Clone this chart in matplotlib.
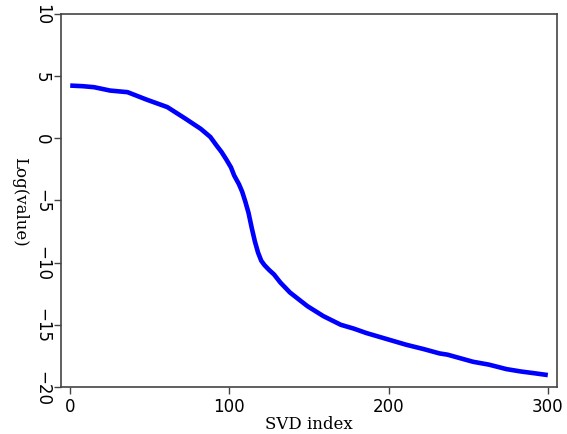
import matplotlib
matplotlib.use("Agg")
import matplotlib.pyplot as plt

# singular values (log)
svd_index = [0, 8, 15, 25, 36, 48, 61, 72, 82, 88, 92, 95, 98, 101, 103, 106,
             108, 110, 112, 114, 116, 118, 120, 122, 125, 128, 132, 138, 143,
             149, 159, 170, 178, 186, 199, 211, 222, 232, 237, 253, 263, 274,
             283, 292, 300]
log_value = [4.23, 4.18, 4.1, 3.83, 3.7, 3.1, 2.5, 1.6, 0.75, 0.1, -0.6, -1.1,
             -1.7, -2.35, -3.0, -3.7, -4.3, -5.1, -6.0, -7.2, -8.3, -9.2, -9.85,
             -10.2, -10.6, -10.95, -11.6, -12.4, -12.9, -13.5, -14.3, -15.0,
             -15.3, -15.66, -16.15, -16.6, -16.95, -17.3, -17.4, -17.97, -18.2,
             -18.56, -18.75, -18.9, -19.04]

x_ticks = [0, 100, 200, 300]
y_ticks = [-20, -15, -10, -5, 0, 5, 10]

fig = plt.figure(figsize=(5.67, 4.35), dpi=100)
ax = fig.add_axes([0.107, 0.108, 0.876, 0.858])
ax.plot(svd_index, log_value, color="#0000ff", linewidth=3.3,
        solid_joinstyle="round", solid_capstyle="butt")

ax.set_xlim(-6, 306)
ax.set_ylim(-20, 10)
ax.set_xticks(x_ticks)
ax.set_yticks(y_ticks)
ax.set_yticklabels([str(v).replace("-", "\u2212") for v in y_ticks],
                   rotation=-90, va="center")
ax.tick_params(labelsize=12, direction="out", length=5, width=1, color="#444444",
               pad=2)
for lab in ax.get_xticklabels() + ax.get_yticklabels():
    lab.set_family("DejaVu Sans")
for s in ax.spines.values():
    s.set_color("#444444")
    s.set_linewidth(1.2)

ax.set_xlabel("SVD index", family="DejaVu Serif", fontsize=12, labelpad=0)
ax.set_ylabel("Log(value)", family="DejaVu Serif", fontsize=12, rotation=-90,
              labelpad=16, va="bottom")

fig.savefig("out.png", dpi=100)
